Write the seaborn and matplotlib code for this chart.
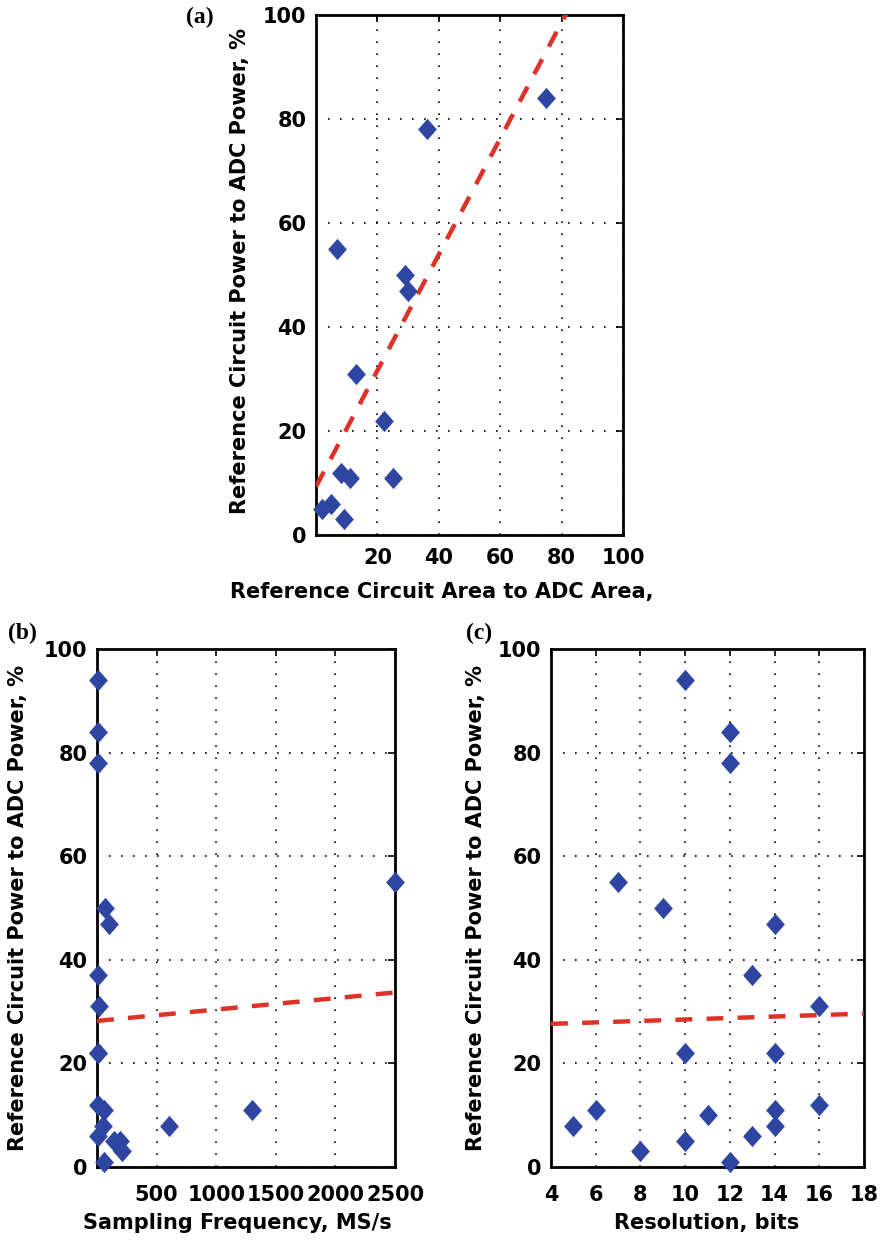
import numpy as np
import pandas as pd
import matplotlib
matplotlib.use("Agg")
import matplotlib.pyplot as plt
from matplotlib.path import Path
import seaborn as sns

# ---------------- data ----------------
# (a) reference-circuit area ratio vs power ratio (%)
area_ratio = [2, 5, 9, 8, 11, 7, 13, 22, 25, 29, 30, 36, 75]
power_a = [5, 6, 3, 12, 11, 55, 31, 22, 11, 50, 47, 78, 84]
fit_a = (9.3, 1.116)          # intercept, slope

# (b) sampling frequency (MS/s) vs power ratio (%)
fs_msps = [5, 5, 5, 70, 100, 5, 15, 5, 10, 2500, 10, 60, 50, 5, 145, 195, 210, 55, 600, 1300]
power_b = [94, 84, 78, 50, 47, 37, 31, 22, 22, 55, 12, 11, 8, 6, 5, 5, 3, 1, 8, 11]
fit_b = (28.2, 0.0022)

# (c) resolution (bits) vs power ratio (%)
res_bits = [5, 6, 7, 8, 9, 10, 10, 10, 11, 12, 12, 12, 13, 13, 14, 14, 14, 14, 16, 16]
power_c = [8, 11, 55, 3, 50, 94, 22, 5, 10, 84, 78, 1, 37, 6, 47, 22, 11, 8, 31, 12]
fit_c = (27.07, 0.141)

y_ticks = [0, 20, 40, 60, 80, 100]
x_ticks_a = [20, 40, 60, 80, 100]
x_ticks_b = [500, 1000, 1500, 2000, 2500]
x_ticks_c = [4, 6, 8, 10, 12, 14, 16, 18]

ylabel = "Reference Circuit Power to ADC Power, %"

# ---------------- style ----------------
sns.set_style("white")
plt.rcParams["font.family"] = ["DejaVu Sans"]
plt.rcParams["font.weight"] = "bold"
for k in ("text.color", "axes.labelcolor", "xtick.color", "ytick.color"):
    plt.rcParams[k] = "black"

W, H = 886, 1242
fig = plt.figure(figsize=(W / 100, H / 100), dpi=100)


def rect(x0, y0, x1, y1):
    return [x0 / W, 1 - y1 / H, (x1 - x0) / W, (y1 - y0) / H]


BLUE = "#2E45A1"
RED = "#E03127"
DIAMOND = Path([(0, 1), (0.88, 0), (0, -1), (-0.88, 0), (0, 1)],
               [Path.MOVETO, Path.LINETO, Path.LINETO, Path.LINETO, Path.CLOSEPOLY])


def panel(ax, x, y, fit, xlim, xticks, xlabel, xlab_xy, ylab_xy, xpad):
    sns.scatterplot(x=x, y=y, ax=ax, marker=DIAMOND, s=235, color=BLUE,
                    edgecolor=BLUE, linewidth=0, clip_on=False, zorder=4,
                    legend=False)
    fx = np.array(xlim, dtype=float)
    fy = fit[0] + fit[1] * fx
    sns.lineplot(x=fx, y=fy, ax=ax, color=RED, linewidth=3.2,
                 linestyle=(0, (3.8, 3.2)), zorder=3, legend=False)
    ax.set_xlim(*xlim)
    ax.set_ylim(0, 100)
    ax.set_xticks(xticks)
    ax.set_yticks(y_ticks)
    ax.grid(True, color="black", linestyle=(0, (1, 6.2)), linewidth=1.2)
    ax.set_axisbelow(True)
    ax.tick_params(direction="in", top=True, right=True, length=5,
                   width=1.2, labelsize=15, color="black")
    ax.tick_params(axis="x", pad=xpad)
    ax.tick_params(axis="y", pad=7)
    for s in ax.spines.values():
        s.set_linewidth(2.0)
        s.set_color("black")
        s.set_visible(True)
    for lbl in ax.get_xticklabels() + ax.get_yticklabels():
        lbl.set_fontweight("bold")
    ax.set_xlabel(xlabel, fontsize=15, fontweight="bold", va="center", ha="center")
    ax.xaxis.set_label_coords(xlab_xy[0] / W, 1 - xlab_xy[1] / H,
                              transform=fig.transFigure)
    ax.set_ylabel(ylabel, fontsize=15, fontweight="bold", va="center", ha="center")
    ax.yaxis.set_label_coords(ylab_xy[0] / W, 1 - ylab_xy[1] / H,
                              transform=fig.transFigure)


ax_a = fig.add_axes(rect(316, 15, 623, 535))
panel(ax_a, area_ratio, power_a, fit_a, (0, 100), x_ticks_a,
      "Reference Circuit Area to ADC Area,", (442, 592), (240, 271), 9)

ax_b = fig.add_axes(rect(97, 649, 395, 1167))
panel(ax_b, fs_msps, power_b, fit_b, (0, 2500), x_ticks_b,
      "Sampling Frequency, MS/s", (237, 1223), (18, 908), 13)

ax_c = fig.add_axes(rect(551, 649, 864, 1167))
panel(ax_c, res_bits, power_c, fit_c, (4, 18), x_ticks_c,
      "Resolution, bits", (707, 1223), (476, 908), 13)

for txt, (px, py) in {"(a)": (200, 17), "(b)": (22, 633), "(c)": (479, 633)}.items():
    fig.text(px / W, 1 - py / H, txt, family="Liberation Serif",
             fontweight="bold", fontsize=17, ha="center", va="center")

fig.savefig("out.png", dpi=100)
